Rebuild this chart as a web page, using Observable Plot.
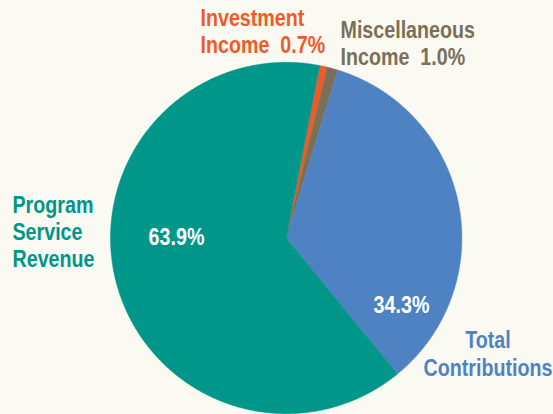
<!DOCTYPE html>
<html>
<head>
<meta charset="utf-8">
<script src="https://cdn.jsdelivr.net/npm/d3@7"></script>
<script src="https://cdn.jsdelivr.net/npm/@observablehq/plot@0.6"></script>
<style>
  html, body { margin: 0; padding: 0; background: #FAFAF2; }
  #chart svg { display: block; }
  #chart svg text { white-space: pre; }
</style>
</head>
<body>
<div id="chart"></div>
<script>
// ---- data ----
const categories = ["Investment Income", "Miscellaneous Income", "Total Contributions", "Program Service Revenue"];
const values = [0.7, 1.0, 34.3, 63.9];
const colors = ["#F05A28", "#7B6F58", "#4F82C3", "#00968A"];
const labelTexts = ["Investment\nIncome  0.7%", "Miscellaneous\nIncome  1.0%", "Total\nContributions", "Program\nService\nRevenue"];
const pctTexts = ["", "", "34.3%", "63.9%"];

// ---- layout ----
const W = 553, H = 414;
const cx = 285.7, cy = 237.5, R = 175.7;
const startDeg = 11;
const font = "'Liberation Sans', Arial, sans-serif";
const squeeze = 0.82;

const total = d3.sum(values);
const slices = [];
const points = [];
let acc = startDeg;
values.forEach((v, i) => {
  const a0 = acc, a1 = acc + v / total * 360;
  acc = a1;
  slices.push({cat: categories[i], a0, a1, i});
  points.push({cat: categories[i], x: cx, y: cy});
  const n = Math.max(2, Math.ceil((a1 - a0) * 2));
  for (let k = 0; k <= n; k++) {
    const a = (a0 + (a1 - a0) * k / n) * Math.PI / 180;
    points.push({cat: categories[i], x: cx + R * Math.sin(a), y: cy - R * Math.cos(a)});
  }
  points.push({cat: categories[i], x: cx, y: cy});
});

// label placement (layout only)
const outer = [
  {x: 200, y: 30, anchor: "start"},
  {x: 340, y: 42, anchor: "start"},
  {x: 487.5, y: 353, anchor: "middle"},
  {x: 12, y: 231, anchor: "start"}
];
const inner = [null, null, {x: 401, y: 305}, {x: 176, y: 237}];

const outerLabels = slices.map((s, i) => ({cat: s.cat, text: labelTexts[i], ...outer[i]}));
const innerLabels = slices.filter((s, i) => pctTexts[i]).map(s => ({text: pctTexts[s.i], ...inner[s.i]}));

const chart = Plot.plot({
  width: W, height: H,
  margin: 0,
  style: {background: "#FAFAF2", fontFamily: font},
  x: {domain: [0, W], range: [0, W], axis: null},
  y: {domain: [0, H], range: [0, H], axis: null},
  color: {domain: categories, range: colors},
  marks: [
    Plot.line(points, {x: "x", y: "y", z: "cat", fill: "cat", stroke: "cat", strokeWidth: 0.5, curve: "linear"}),
    Plot.text(outerLabels.filter(d => d.anchor === "start"), {
      x: "x", y: "y", text: "text", fill: "cat", textAnchor: "start",
      fontSize: 24, fontWeight: "bold", lineHeight: 1.13
    }),
    Plot.text(outerLabels.filter(d => d.anchor === "middle"), {
      x: "x", y: "y", text: "text", fill: "cat", textAnchor: "middle",
      fontSize: 24, fontWeight: "bold", lineHeight: 1.16
    }),
    Plot.text(innerLabels, {
      x: "x", y: "y", text: "text", fill: "white",
      fontSize: 24, fontWeight: "bold"
    })
  ]
});
// condense the bold sans to mimic a narrow typeface
d3.select(chart).selectAll("text").each(function() {
  const t = this.getAttribute("transform");
  if (t) this.setAttribute("transform", t + ` scale(${squeeze},1)`);
});
document.getElementById("chart").appendChild(chart);
</script>
</body>
</html>
